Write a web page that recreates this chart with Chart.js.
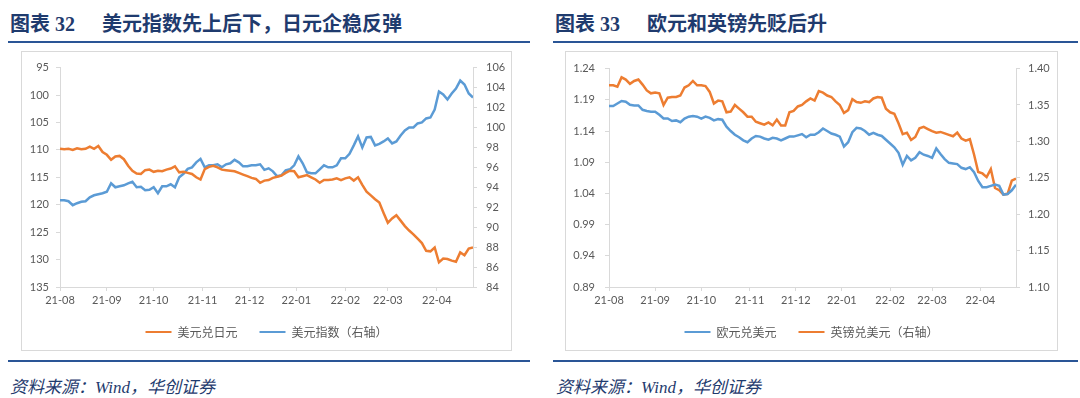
<!DOCTYPE html>
<html>
<head>
<meta charset="utf-8">
<script src="https://cdn.jsdelivr.net/npm/chart.js@4.4.1/dist/chart.umd.min.js"></script>
<style>
  body { margin: 0; width: 1080px; height: 398px; background: #fff; position: relative; overflow: hidden; }
  .title { position: absolute; top: 8px; line-height: 20px; font: bold 20px "Liberation Serif", "Noto Sans CJK SC", serif; color: #1f3b6e; white-space: nowrap; }
  .rule { position: absolute; height: 2px; background: #2a5596; }
  .box { position: absolute; top: 51px; height: 298px; border: 1px solid #d9d9d9; }
  .box canvas { display: block; }
  .src { position: absolute; top: 373px; line-height: 17px; font: italic 17px "Liberation Serif", "Noto Sans CJK SC", serif; color: #1f3b6e; white-space: nowrap; }
</style>
</head>
<body>
  <div class="title" style="left:10px">图表 32</div>
  <div class="title" style="left:102px">美元指数先上后下，日元企稳反弹</div>
  <div class="title" style="left:555px">图表 33</div>
  <div class="title" style="left:647px">欧元和英镑先贬后升</div>

  <div class="rule" style="left:8px;top:41px;width:522px"></div>
  <div class="rule" style="left:553px;top:41px;width:525px"></div>

  <div class="box" style="left:21px;width:489px"><canvas id="chart-yen" width="489" height="298"></canvas></div>
  <div class="box" style="left:565px;width:491px"><canvas id="chart-euro" width="491" height="298"></canvas></div>

  <div class="rule" style="left:8px;top:360px;width:522px"></div>
  <div class="rule" style="left:553px;top:360px;width:525px"></div>

  <div class="src" style="left:10px">资料来源：Wind，华创证券</div>
  <div class="src" style="left:556px">资料来源：Wind，华创证券</div>

<script>
// x axis: trading days since 2021-08-02, one sample every STEP days
const STEP = 2;
const LAST_DAY = 194;
const monthLabels = ['21-08', '21-09', '21-10', '21-11', '21-12', '22-01', '22-02', '22-03', '22-04'];
const monthStarts = [0, 22, 44, 67, 89, 111, 134, 154, 177];

// 图表32: 美元兑日元 (left axis, reversed) / 美元指数 (right axis)
const usdJpy = [
    109.8, 109.9, 109.8, 110.0, 109.7, 109.9, 109.8, 109.4, 109.8, 109.3,
    110.4, 110.9, 111.8, 111.2, 111.1, 111.7, 112.9, 113.8, 114.3, 114.4,
    113.7, 113.6, 114.0, 113.8, 113.9, 113.6, 113.4, 113.0, 114.1, 114.0,
    114.2, 114.4, 115.0, 115.4, 113.5, 113.1, 112.9, 113.2, 113.6, 113.7,
    113.8, 113.9, 114.2, 114.5, 114.8, 115.1, 115.3, 116.0, 115.6,
    115.5, 115.1, 114.9, 114.7, 114.2, 113.8, 113.9, 115.0, 114.8, 114.6,
    115.0, 115.4, 116.0, 115.5, 115.5, 115.4, 115.2, 115.5, 115.2, 115.0,
    115.6, 115.0, 116.4, 117.6, 118.3, 119.0, 119.6, 121.5, 123.3, 122.5,
    121.9, 122.9, 123.9, 124.7, 125.4, 126.2, 127.0, 128.4, 128.5, 127.8,
    130.5, 129.8, 129.9, 130.2, 130.4, 128.7, 129.2, 128.0, 127.8
];
const dollarIndex = [
    92.7, 92.7, 92.6, 92.2, 92.4, 92.55, 92.6, 93.0, 93.2, 93.3,
    93.4, 93.55, 94.4, 94.0, 94.1, 94.2, 94.4, 94.55, 94.0, 94.05,
    93.7, 93.75, 94.0, 93.4, 94.1, 94.1, 94.3, 94.0, 95.0, 95.35,
    95.85, 96.0, 96.5, 96.85, 96.0, 96.2, 96.2, 96.3, 96.0, 96.3,
    96.4, 96.75, 96.5, 96.1, 96.1, 96.2, 96.2, 96.3, 95.75,
    95.9, 95.6, 95.1, 95.2, 95.7, 95.8, 96.2, 97.1, 96.4, 95.5,
    95.4, 95.4, 95.8, 96.2, 96.0, 96.0, 96.2, 96.9, 96.9, 97.35,
    98.2, 99.1, 98.0, 99.0, 99.05, 98.2, 98.35, 98.6, 98.9, 98.4,
    98.6, 99.2, 99.7, 100.0, 100.0, 100.4, 100.5, 100.9, 101.0, 101.8,
    103.6, 103.3, 102.8, 103.4, 103.9, 104.7, 104.3, 103.4, 103.0
];
const jpyTicks = [95, 100, 105, 110, 115, 120, 125, 130, 135];
const dxyTicks = [84, 86, 88, 90, 92, 94, 96, 98, 100, 102, 104, 106];

// 图表33: 欧元兑美元 (left axis) / 英镑兑美元 (right axis)
const eurUsd = [
    1.180, 1.180, 1.184, 1.188, 1.187, 1.182, 1.181, 1.181, 1.174, 1.172,
    1.171, 1.171, 1.166, 1.160, 1.160, 1.156, 1.157, 1.154, 1.160, 1.163,
    1.164, 1.163, 1.160, 1.163, 1.161, 1.157, 1.159, 1.158, 1.147, 1.140,
    1.134, 1.130, 1.125, 1.122, 1.128, 1.132, 1.131, 1.128, 1.126, 1.129,
    1.128, 1.125, 1.128, 1.131, 1.131, 1.133, 1.135, 1.130, 1.134,
    1.134, 1.138, 1.144, 1.140, 1.136, 1.134, 1.131, 1.115, 1.122, 1.138,
    1.145, 1.144, 1.140, 1.134, 1.137, 1.134, 1.132, 1.126, 1.120, 1.114,
    1.105, 1.086, 1.100, 1.093, 1.097, 1.106, 1.102, 1.100, 1.097, 1.112,
    1.103, 1.095, 1.089, 1.088, 1.087, 1.081, 1.079, 1.082, 1.074, 1.060,
    1.050, 1.050, 1.052, 1.054, 1.052, 1.038, 1.039, 1.045, 1.054
];
const gbpUsd = [
    1.377, 1.377, 1.375, 1.388, 1.385, 1.379, 1.383, 1.385, 1.378, 1.370,
    1.366, 1.367, 1.366, 1.350, 1.360, 1.361, 1.361, 1.363, 1.374, 1.377,
    1.383, 1.377, 1.377, 1.376, 1.368, 1.352, 1.356, 1.355, 1.340, 1.341,
    1.350, 1.345, 1.340, 1.334, 1.334, 1.327, 1.325, 1.323, 1.326, 1.322,
    1.330, 1.322, 1.322, 1.340, 1.342, 1.348, 1.350, 1.355, 1.359,
    1.356, 1.369, 1.367, 1.363, 1.361, 1.355, 1.350, 1.339, 1.343, 1.358,
    1.354, 1.353, 1.355, 1.354, 1.359, 1.361, 1.360, 1.345, 1.340, 1.338,
    1.325, 1.310, 1.312, 1.302, 1.306, 1.318, 1.320, 1.317, 1.314, 1.312,
    1.313, 1.311, 1.309, 1.307, 1.312, 1.304, 1.301, 1.303, 1.282, 1.258,
    1.256, 1.251, 1.262, 1.236, 1.233, 1.227, 1.228, 1.246, 1.249
];
const eurTicks = [0.89, 0.94, 0.99, 1.04, 1.09, 1.14, 1.19, 1.24];
const gbpTicks = [1.10, 1.15, 1.20, 1.25, 1.30, 1.35, 1.40];

const ORANGE = '#ED7D31';
const BLUE = '#5B9BD5';
const AXIS = '#d9d9d9';
const TEXT = '#595959';

Chart.defaults.font.family = 'Lato, "Noto Sans CJK SC", sans-serif';
Chart.defaults.color = TEXT;

let yenChart = null;
let euroChart = null;

function toPoints(values) {
    return values.map((v, i) => ({ x: i * STEP, y: v }));
}

function lineDataset(label, values, color, axis) {
    return {
        label: label,
        data: toPoints(values),
        borderColor: color,
        backgroundColor: color,
        borderWidth: 2.5,
        pointRadius: 0,
        tension: 0,
        yAxisID: axis
    };
}

function valueAxis(position, tickValues, decimals, width, padding, reverse) {
    return {
        type: 'linear',
        position: position,
        reverse: reverse,
        min: tickValues[0],
        max: tickValues[tickValues.length - 1],
        border: { color: AXIS },
        grid: { drawOnChartArea: false, drawTicks: true, tickLength: 4, color: AXIS },
        ticks: {
            color: TEXT,
            padding: padding,
            font: { size: 11 },
            callback: value => value.toFixed(decimals)
        },
        afterBuildTicks: scale => { scale.ticks = tickValues.map(v => ({ value: v })); },
        afterFit: scale => { scale.width = width; }
    };
}

function getOptions(left, right) {
    return {
        responsive: false,
        animation: false,
        layout: { padding: { top: 14, bottom: 2 } },
        plugins: {
            tooltip: { enabled: false },
            legend: {
                position: 'bottom',
                labels: {
                    boxWidth: 26,
                    boxHeight: 2,
                    padding: 22,
                    color: TEXT,
                    font: { size: 12, family: '"Noto Sans CJK SC", sans-serif' },
                    generateLabels: chart => Chart.defaults.plugins.legend.labels.generateLabels(chart)
                        .map(item => Object.assign(item, { fillStyle: item.strokeStyle, lineWidth: 0 }))
                }
            }
        },
        scales: {
            x: {
                type: 'linear',
                min: 0,
                max: LAST_DAY,
                border: { color: AXIS },
                grid: { drawOnChartArea: false, drawTicks: true, tickLength: 4, color: AXIS },
                ticks: {
                    color: TEXT,
                    padding: 3,
                    maxRotation: 0,
                    autoSkip: false,
                    font: { size: 11 },
                    callback: (value, index) => monthLabels[index]
                },
                afterBuildTicks: scale => { scale.ticks = monthStarts.map(v => ({ value: v })); },
                afterFit: scale => { scale.height = 17; }
            },
            yL: left,
            yR: right
        }
    };
}

function initYenChart() {
    const ctx = document.getElementById('chart-yen');
    if (!ctx) return;
    if (yenChart) yenChart.destroy();

    yenChart = new Chart(ctx, {
        type: 'line',
        data: {
            datasets: [
                lineDataset('美元兑日元', usdJpy, ORANGE, 'yL'),
                lineDataset('美元指数（右轴）', dollarIndex, BLUE, 'yR')
            ]
        },
        options: getOptions(
            valueAxis('left', jpyTicks, 0, 38, 7, true),
            valueAxis('right', dxyTicks, 0, 38, 9, false)
        )
    });
}

function initEuroChart() {
    const ctx = document.getElementById('chart-euro');
    if (!ctx) return;
    if (euroChart) euroChart.destroy();

    euroChart = new Chart(ctx, {
        type: 'line',
        data: {
            datasets: [
                lineDataset('欧元兑美元', eurUsd, BLUE, 'yL'),
                lineDataset('英镑兑美元（右轴）', gbpUsd, ORANGE, 'yR')
            ]
        },
        options: getOptions(
            valueAxis('left', eurTicks, 2, 43, 10, false),
            valueAxis('right', gbpTicks, 2, 41, 8, false)
        )
    });
}

initYenChart();
initEuroChart();
</script>
</body>
</html>
